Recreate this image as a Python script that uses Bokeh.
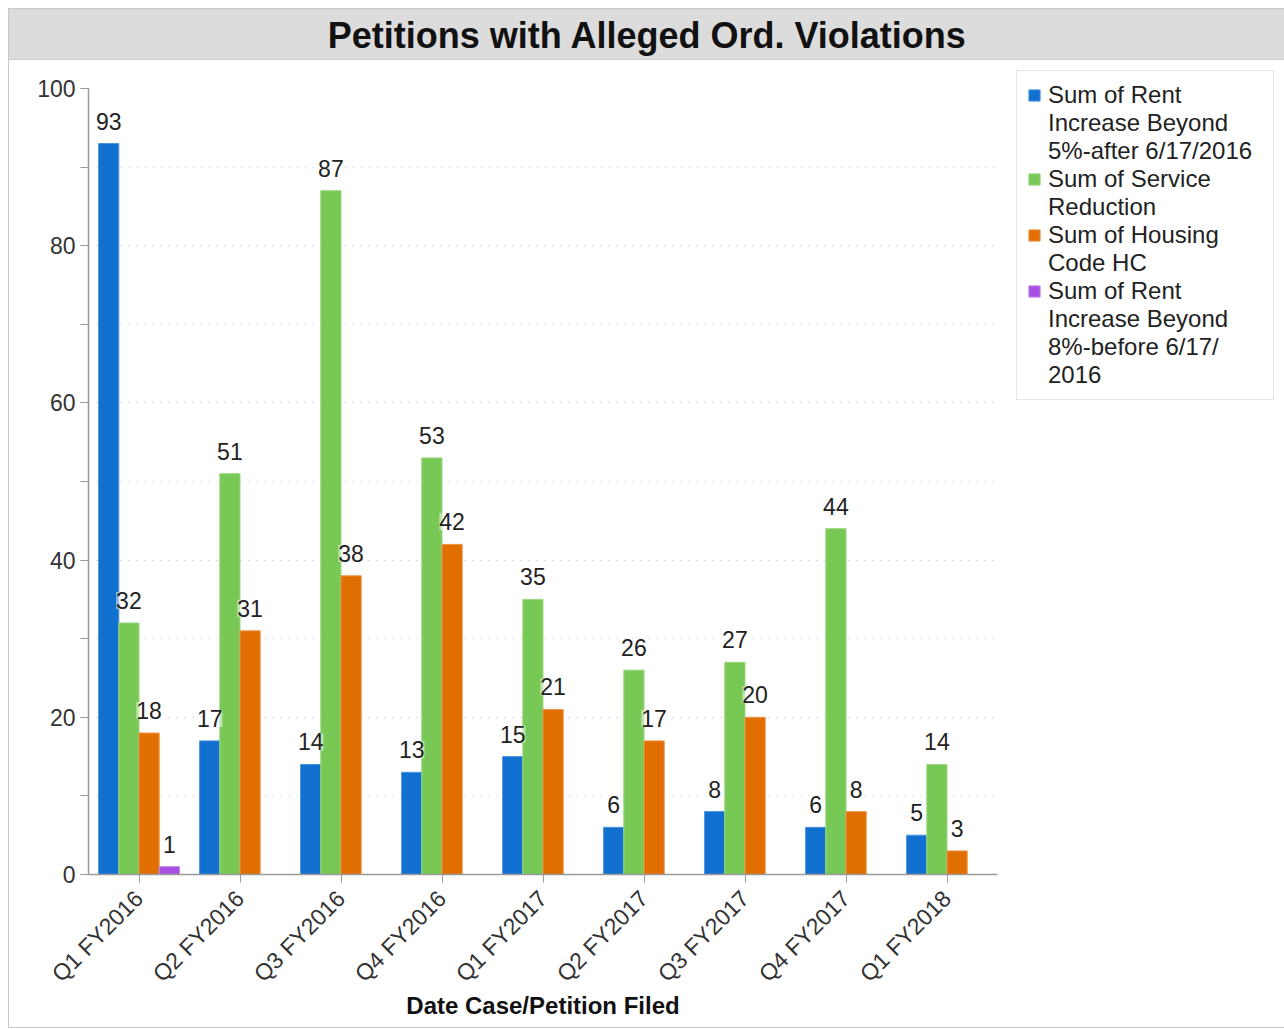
import math
from bokeh.plotting import figure
from bokeh.layouts import column
from bokeh.models import (ColumnDataSource, FactorRange, Range1d, LabelSet, Legend,
                          LegendItem, SingleIntervalTicker)
from bokeh.transform import dodge
from bokeh.embed import file_html
from bokeh.resources import INLINE
from bokeh.core.properties import value

# ---- data -------------------------------------------------------------
quarters = ["Q1 FY2016", "Q2 FY2016", "Q3 FY2016", "Q4 FY2016", "Q1 FY2017",
            "Q2 FY2017", "Q3 FY2017", "Q4 FY2017", "Q1 FY2018"]

rent_after_5pct = [93, 17, 14, 13, 15, 6, 8, 6, 5]
service_reduction = [32, 51, 87, 53, 35, 26, 27, 44, 14]
housing_code_hc = [18, 31, 38, 42, 21, 17, 20, 8, 3]
rent_before_8pct = [1, None, None, None, None, None, None, None, None]

# legend text, one entry per line of each series name
series_labels = [
    ["Sum of Rent", "Increase Beyond", "5%-after 6/17/2016"],
    ["Sum of Service", "Reduction"],
    ["Sum of Housing", "Code HC"],
    ["Sum of Rent", "Increase Beyond", "8%-before 6/17/", "2016"],
]
title_text = "Petitions with Alleged Ord. Violations"
x_axis_title = "Date Case/Petition Filed"

# ---- styling ----------------------------------------------------------
FONT = "Liberation Sans"
colors = ["#1170d0", "#78c855", "#e06e00", "#a64fe0"]
edges = ["#4a94de", "#9ad77e", "#ea9646", "#c085ea"]
offsets = [-0.3, -0.1, 0.1, 0.3]
all_series = [rent_after_5pct, service_reduction, housing_code_hc, rent_before_8pct]

W = 1276
BL, BR = 79, 288          # borders around the plotting frame
FW, FH = 909, 786         # plotting frame size
BT, BB = 28, 153          # top / bottom borders of the chart

# ---- title band -------------------------------------------------------
head = figure(width=W, height=50, frame_width=FW, frame_height=50,
              x_range=Range1d(0, 1), y_range=Range1d(0, 1),
              output_backend="svg", toolbar_location=None,
              min_border_left=BL, min_border_right=BR,
              min_border_top=0, min_border_bottom=0,
              styles={"background-color": "#dcdcdc",
                      "border-bottom": "1px solid #cccccc"})
head.axis.visible = False
head.grid.visible = False
head.background_fill_color = None
head.border_fill_color = None
head.outline_line_color = None
head.text(x=[0.5], y=[0.5], text=[title_text], text_align="center",
          text_baseline="middle", x_offset=W / 2 - (BL + FW / 2),
          text_font=value(FONT), text_font_size="36px",
          text_font_style="bold", text_color="#111111")

# ---- main chart -------------------------------------------------------
p = figure(x_range=FactorRange(*quarters, range_padding=0), y_range=Range1d(0, 100),
           width=W, height=BT + FH + BB, frame_width=FW, frame_height=FH,
           output_backend="svg", toolbar_location=None,
           min_border_left=BL, min_border_right=BR, min_border_top=BT,
           min_border_bottom=BB)
p.outline_line_color = None

# invisible renderer used for the continuation lines of legend entries
blank = p.vbar(x=[], top=[], width=0.2, fill_alpha=0, line_alpha=0)

items = []
for vals, col, edge, off, lab in zip(all_series, colors, edges, offsets, series_labels):
    xs = [q for q, v in zip(quarters, vals) if v is not None]
    ys = [v for v in vals if v is not None]
    src = ColumnDataSource(dict(q=xs, v=ys, t=[str(v) for v in ys]))
    r = p.vbar(x=dodge("q", off, range=p.x_range), top="v", width=0.2, source=src,
               fill_color=col, line_color=edge, line_width=1)
    items.append(LegendItem(label=lab[0], renderers=[r]))
    for extra in lab[1:]:
        items.append(LegendItem(label=extra, renderers=[blank]))
    p.add_layout(LabelSet(x=dodge("q", off, range=p.x_range), y="v", text="t",
                          source=src, text_align="center", text_baseline="bottom",
                          y_offset=14, text_font=value(FONT), text_font_size="23px",
                          text_color="#222222", background_fill_color="white",
                          background_fill_alpha=0.5))

# axes
yax = p.yaxis[0]
yax.ticker = SingleIntervalTicker(interval=20, num_minor_ticks=2)
for ax in (p.xaxis[0], yax):
    ax.axis_line_color = "#9a9a9a"
    ax.axis_line_width = 1.5
    ax.major_tick_line_color = "#9a9a9a"
    ax.minor_tick_line_color = "#9a9a9a"
    ax.major_tick_in = 0
    ax.major_tick_out = 8
    ax.minor_tick_in = 0
    ax.minor_tick_out = 8
    ax.major_label_text_font = FONT
    ax.major_label_text_font_size = "23px"
    ax.major_label_text_color = "#333333"
yax.major_label_standoff = 5
p.xaxis.major_label_orientation = math.pi / 4
p.xaxis.major_label_standoff = 12
p.xaxis.axis_label = x_axis_title
p.xaxis.axis_label_text_font = FONT
p.xaxis.axis_label_text_font_size = "24px"
p.xaxis.axis_label_text_font_style = "bold"
p.xaxis.axis_label_text_color = "#111111"
p.xaxis.axis_label_standoff = -7

# grid
p.xgrid.grid_line_color = None
p.ygrid.grid_line_color = "#cfcfcf"
p.ygrid.grid_line_dash = "1 7"
p.ygrid.minor_grid_line_color = "#cfcfcf"
p.ygrid.minor_grid_line_dash = "1 7"

# legend in the right-hand margin beside the frame
legend = Legend(items=items, location=(19, 474), border_line_color="#cccccc",
                border_line_width=1.5, padding=10, spacing=0, margin=0,
                glyph_width=14, glyph_height=14, label_standoff=7,
                label_height=28, label_width=215,
                label_text_font=FONT, label_text_font_size="24px",
                label_text_color="#222222", label_text_line_height=1.2)
p.add_layout(legend, "right")

layout = column(head, p, spacing=0, margin=(8, 0, 0, 8),
                styles={"border": "1px solid #c8c8c8"})

open("out.html", "w").write(file_html(layout, INLINE))
